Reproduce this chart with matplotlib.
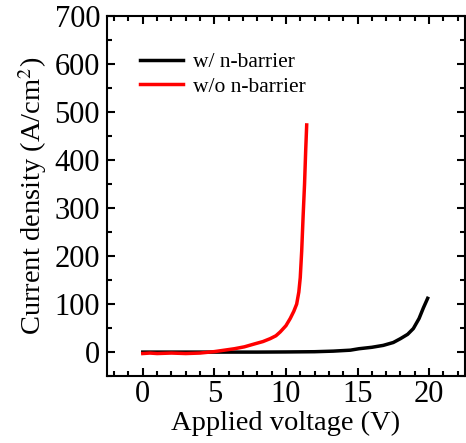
import numpy as np
import matplotlib.pyplot as plt
from matplotlib.ticker import MultipleLocator

# data
v_with = [0, 2, 4, 6, 8, 10, 12, 13.3, 14.5, 15.1, 16, 16.8, 17.5, 18.0, 18.5, 18.9, 19.3, 19.6, 19.9]
j_with = [0, 0, 0, 0, 0, 0.3, 0.8, 2, 4, 7, 10, 14, 20, 28, 37, 49, 70, 92, 112]

v_without = [0, 0.5, 1, 2, 3, 4, 5, 5.7, 6.4, 7.1, 7.8, 8.4, 8.9, 9.3, 9.6, 10.0, 10.3,
             10.55, 10.75, 10.9, 11.0, 11.1, 11.2, 11.3, 11.38, 11.45]
j_without = [-3, -2, -3, -2, -3, -2, 1, 4, 7, 11, 17, 22, 28, 34, 42, 55, 70,
             85, 100, 125, 155, 210, 283, 350, 420, 473]

plt.rcParams['font.family'] = ['Liberation Serif', 'DejaVu Serif']
plt.rcParams['mathtext.fontset'] = 'stix'

fig = plt.figure(figsize=(4.66, 4.43), dpi=100)
ax = fig.add_axes([0.2296, 0.151, 0.768, 0.813])

ax.plot(v_with, j_with, color='black', lw=2.5, label='w/ n-barrier')
ax.plot(v_without, j_without, color='#ff0000', lw=2.5, label='w/o n-barrier')

ax.set_xlim(-2.5, 22.5)
ax.set_ylim(-50, 700)
ax.xaxis.set_major_locator(MultipleLocator(5))
ax.xaxis.set_minor_locator(MultipleLocator(1))
ax.yaxis.set_major_locator(MultipleLocator(100))
ax.yaxis.set_minor_locator(MultipleLocator(50))
ax.tick_params(which='both', direction='in', top=True, right=True, labelsize=22, width=1.5)
ax.tick_params(axis='x', pad=3)
ax.tick_params(axis='y', pad=5)
ax.tick_params(which='major', length=6)
ax.tick_params(which='minor', length=3.5)
for s in ax.spines.values():
    s.set_linewidth(1.5)

ax.set_xlabel('Applied voltage (V)', fontsize=20.5, labelpad=1)
ax.set_ylabel('Current density (A/cm$^2$)', fontsize=20.5, labelpad=4)

ax.legend(loc='upper left', bbox_to_anchor=(0.068, 0.923), frameon=False, fontsize=15.5,
          handlelength=2.0, handletextpad=0.45, labelspacing=0.2, borderaxespad=0)

fig.savefig('out.png', dpi=100)
